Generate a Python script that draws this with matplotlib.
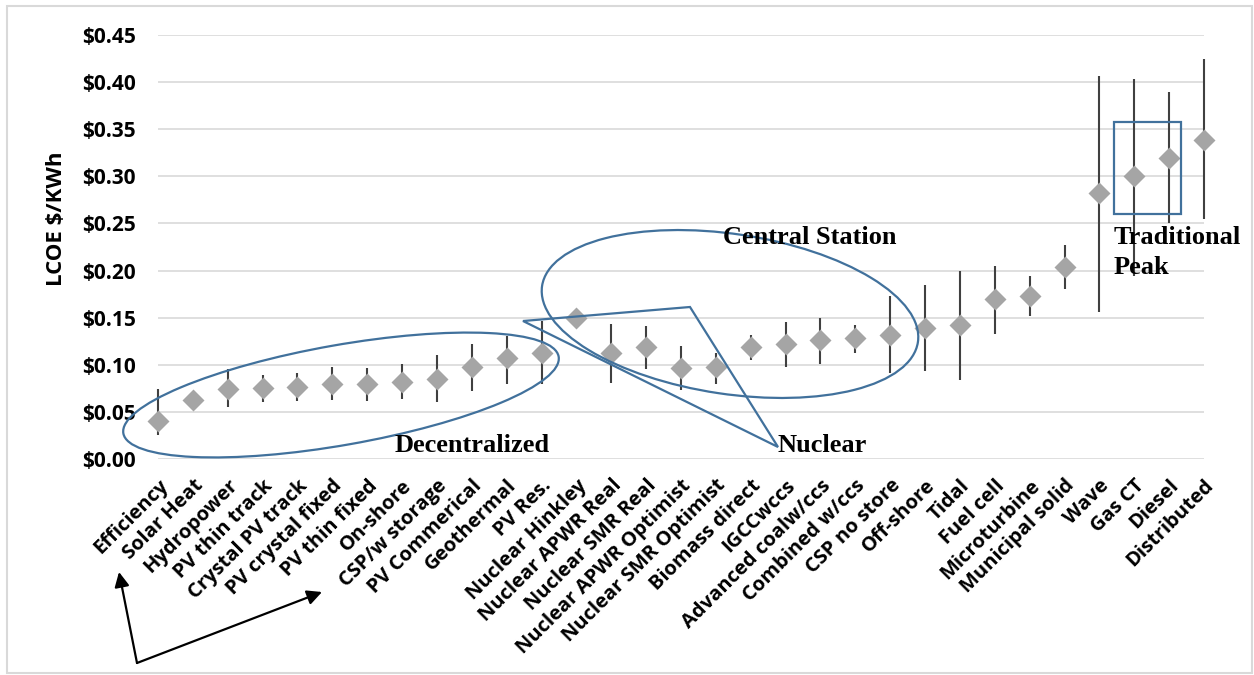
import matplotlib.pyplot as plt
import numpy as np
from matplotlib.patches import Ellipse, Polygon, Rectangle, FancyArrowPatch
from matplotlib.transforms import Affine2D

categories = ["Efficiency", "Solar Heat", "Hydropower", "PV thin track", "Crystal PV track",
              "PV crystal fixed", "PV thin fixed", "On-shore", "CSP/w storage", "PV Commerical",
              "Geothermal", "PV Res.", "Nuclear Hinkley", "Nuclear APWR Real", "Nuclear SMR Real",
              "Nuclear APWR Optimist", "Nuclear SMR Optimist", "Biomass direct", "IGCCwccs",
              "Advanced coalw/ccs", "Combined w/ccs", "CSP no store", "Off-shore", "Tidal",
              "Fuel cell", "Microturbine", "Municipal solid", "Wave", "Gas CT", "Diesel", "Distributed"]

# LCOE $/kWh, central estimate
lcoe = np.array([0.040, 0.063, 0.074, 0.075, 0.076, 0.080, 0.080, 0.082, 0.085, 0.098,
                 0.107, 0.113, 0.150, 0.112, 0.119, 0.097, 0.098, 0.119, 0.122, 0.126,
                 0.128, 0.132, 0.139, 0.142, 0.170, 0.173, 0.204, 0.282, 0.300, 0.319, 0.339])
# range low / high
low = np.array([0.026, 0.063, 0.055, 0.061, 0.062, 0.063, 0.062, 0.064, 0.061, 0.072,
                0.080, 0.080, 0.150, 0.081, 0.095, 0.073, 0.080, 0.105, 0.098, 0.101,
                0.112, 0.091, 0.093, 0.084, 0.133, 0.152, 0.180, 0.156, 0.194, 0.251, 0.255])
high = np.array([0.074, 0.063, 0.095, 0.089, 0.091, 0.098, 0.097, 0.101, 0.110, 0.122,
                 0.131, 0.146, 0.150, 0.143, 0.141, 0.120, 0.113, 0.132, 0.145, 0.150,
                 0.142, 0.173, 0.185, 0.200, 0.205, 0.194, 0.227, 0.407, 0.403, 0.389, 0.424])

yticks = np.arange(0, 0.451, 0.05)

W, H = 1254, 675
fig = plt.figure(figsize=(W / 100, H / 100), dpi=100)
ax = fig.add_axes([158 / W, 1 - 459 / H, (1204 - 158) / W, (459 - 35) / H])

x = np.arange(len(categories))
eb = ax.errorbar(x, lcoe, yerr=[lcoe - low, high - lcoe], fmt='none', ecolor='#404040',
                 elinewidth=1.5, capsize=0, zorder=2)
for c in eb[2]:
    c.set_clip_on(False)
ax.plot(x, lcoe, 'D', color='#A5A5A5', ms=11.5, mec='none', zorder=3, clip_on=False)

ax.set_xlim(0, len(categories) - 1)
ax.set_ylim(0, 0.45)
ax.set_yticks(yticks)
ax.set_yticklabels([r'\$%.2f' % v for v in yticks], fontsize=15, fontweight='bold', family='Open Sans')
ax.set_xticks(x)
ax.set_xticklabels(categories, rotation=45, ha='right', rotation_mode='anchor',
                   fontsize=14.5, fontweight='bold', family='Open Sans')
ax.tick_params(axis='y', length=0, pad=16)
ax.tick_params(axis='x', length=0, pad=12)
ax.grid(axis='y', color='#D9D9D9', lw=1.2)
ax.set_axisbelow(True)
for s in ax.spines.values():
    s.set_visible(False)

fig.text(57 / W, 1 - 219 / H, r'LCOE \$/KWh', rotation=90, ha='center', va='center',
         fontsize=16, fontweight='bold', family='Open Sans')

# annotation shapes, placed in image pixel coords (y down)
px = Affine2D().scale(1 / W, -1 / H).translate(0, 1) + fig.transFigure
blue = '#41719C'

fig.add_artist(Rectangle((7, 6), 1245, 667, transform=px, fill=False, ec='#D9D9D9', lw=1.5))
fig.add_artist(Ellipse((341, 395), 442, 100, angle=-10, transform=px, fill=False, ec=blue, lw=1.6))
fig.add_artist(Ellipse((730, 314), 380, 160, angle=8.5, transform=px, fill=False, ec=blue, lw=1.6))
fig.add_artist(Polygon([(523, 321), (690, 307), (778, 447)], closed=True, transform=px,
                       fill=False, ec=blue, lw=1.6))
fig.add_artist(Rectangle((1114, 122), 67, 92, transform=px, fill=False, ec=blue, lw=1.6))

for tip in [(119, 572), (322, 592)]:
    fig.add_artist(FancyArrowPatch((137, 663), tip, transform=px, arrowstyle='-|>',
                                   mutation_scale=22, color='black', lw=1.6,
                                   shrinkA=0, shrinkB=0))

serif = dict(fontsize=19, fontweight='bold', family='Liberation Serif', va='center', ha='left')
fig.text(395 / W, 1 - 445 / H, 'Decentralized', **serif)
fig.text(778 / W, 1 - 445 / H, 'Nuclear', **serif)
fig.text(723 / W, 1 - 237 / H, 'Central Station', **serif)
fig.text(1114 / W, 1 - 238 / H, 'Traditional', **serif)
fig.text(1114 / W, 1 - 267 / H, 'Peak', **serif)

fig.savefig('out.png', dpi=100)
